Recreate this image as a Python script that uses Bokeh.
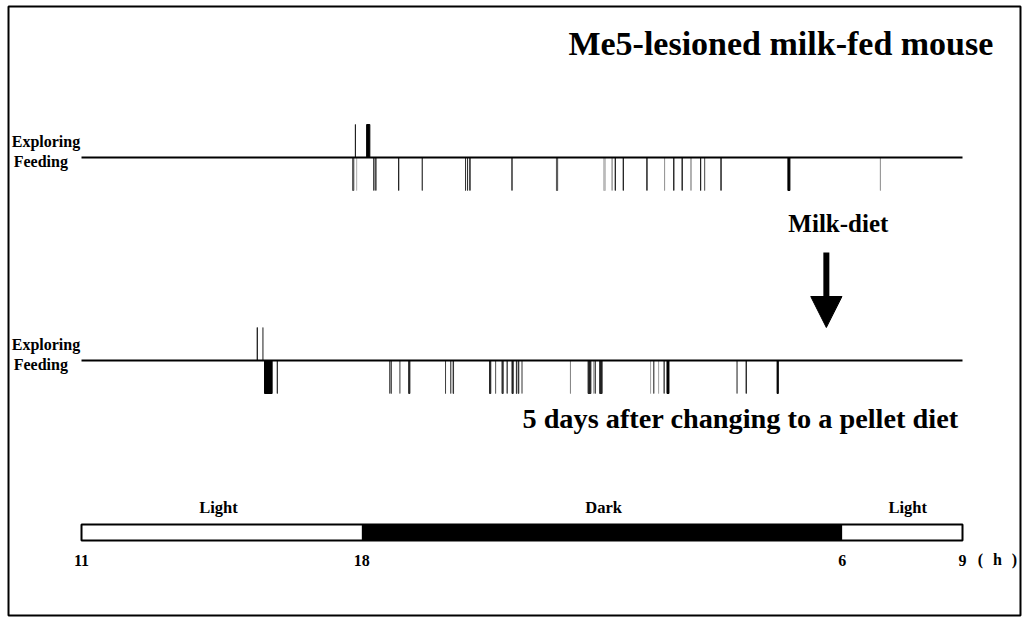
from bokeh.plotting import figure
from bokeh.models import Range1d
from bokeh.core.properties import value
from bokeh.embed import file_html
from bokeh.resources import INLINE

# ---------------- data (hours since 0:00 of day 1; 24+ = next day) ----------------
# Me5-lesioned milk-fed mouse (top row)
top_explore_start = [17.84, 18.12]
top_explore_end = [17.84, 18.20]
top_explore_shade = ["#222222", "#000000"]

top_feed_start = [17.77, 17.87, 18.30, 18.35, 18.92, 19.51, 20.59, 20.64, 20.70, 21.75,
                  22.86, 24.04, 24.25, 24.33, 24.53, 25.12, 25.56, 25.79, 26.00, 26.22,
                  26.46, 26.56, 26.97, 28.64, 30.95]
top_feed_end = [17.80, 17.87, 18.30, 18.35, 18.92, 19.51, 20.59, 20.64, 20.70, 21.75,
                22.89, 24.08, 24.25, 24.33, 24.53, 25.12, 25.56, 25.79, 26.00, 26.22,
                26.46, 26.56, 26.97, 28.69, 30.95]
top_feed_shade = ["#555555", "#bbbbbb", "#333333", "#333333", "#222222", "#444444", "#333333",
                  "#333333", "#222222", "#333333", "#555555", "#bbbbbb", "#999999", "#222222",
                  "#222222", "#222222", "#999999", "#222222", "#222222", "#999999", "#222222",
                  "#666666", "#222222", "#000000", "#999999"]

# 5 days after changing to a pellet diet (bottom row)
bot_explore_start = [15.39, 15.53]
bot_explore_end = [15.39, 15.53]
bot_explore_shade = ["#222222", "#666666"]

bot_feed_start = [15.57, 15.89, 18.70, 18.74, 18.95, 19.17, 20.09, 20.22, 20.28, 21.19,
                  21.34, 21.50, 21.63, 21.75, 21.86, 21.91, 22.00, 23.21, 23.65, 23.79,
                  23.83, 23.94, 25.21, 25.29, 25.41, 25.55, 25.62, 27.37, 27.60, 28.37]
bot_feed_end = [15.76, 15.89, 18.70, 18.74, 18.95, 19.20, 20.09, 20.22, 20.29, 21.22,
                21.34, 21.53, 21.63, 21.78, 21.87, 21.92, 22.00, 23.21, 23.72, 23.79,
                23.83, 24.00, 25.21, 25.29, 25.41, 25.55, 25.67, 27.37, 27.60, 28.40]
bot_feed_shade = ["#000000", "#333333", "#444444", "#555555", "#777777", "#222222", "#444444",
                  "#555555", "#333333", "#222222", "#666666", "#333333", "#444444", "#222222",
                  "#333333", "#333333", "#777777", "#888888", "#222222", "#aaaaaa", "#444444",
                  "#222222", "#aaaaaa", "#555555", "#aaaaaa", "#444444", "#000000", "#666666",
                  "#222222", "#000000"]

# light / dark cycle
period_start = [11, 18, 30]
period_end = [18, 30, 33]
period_label = ["Light", "Dark", "Light"]
period_fill = ["white", "black", "white"]

tick_hours = [11, 18, 30, 33]
tick_labels = ["11", "18", "6", "9"]
unit_parts = ["(", "h", ")"]

row_start, row_end = 11, 33

# ---------------- figure ----------------
FONT = value("Liberation Serif")

p = figure(width=1027, height=618, x_range=Range1d(8.977, 34.623), y_range=Range1d(618, 0),
           x_axis_type=None, y_axis_type=None, output_backend="svg", toolbar_location=None,
           min_border=0)
p.grid.visible = False
p.outline_line_color = None
p.background_fill_color = "white"
p.border_fill_color = "white"

# outer frame
p.quad(left=[9.177], right=[34.448], top=[6], bottom=[615],
       fill_color=None, line_color="black", line_width=2)

rows = [
    (157, top_explore_start, top_explore_end, top_explore_shade,
     top_feed_start, top_feed_end, top_feed_shade),
    (360, bot_explore_start, bot_explore_end, bot_explore_shade,
     bot_feed_start, bot_feed_end, bot_feed_shade),
]
mark_h = 33
for base, es, ee, ec, fs, fe, fc in rows:
    p.quad(left=es, right=ee, top=base - mark_h, bottom=base,
           fill_color=ec, line_color=ec, line_width=1)
    p.quad(left=fs, right=fe, top=base, bottom=base + mark_h,
           fill_color=fc, line_color=fc, line_width=1)
    p.segment(x0=[row_start], y0=[base], x1=[row_end], y1=[base],
              line_color="black", line_width=2)
    p.text(x=[9.257], y=[base - 16], text=["Exploring"], text_font=FONT,
           text_font_style="bold", text_font_size="16px", text_baseline="alphabetic")
    p.text(x=[9.307], y=[base + 4], text=["Feeding"], text_font=FONT,
           text_font_style="bold", text_font_size="16px", text_baseline="alphabetic")

# titles
p.text(x=[33.77], y=[43], text=["Me5-lesioned milk-fed mouse"], text_font=FONT,
       text_font_style="bold", text_font_size="34px", text_align="right",
       text_baseline="alphabetic")
p.text(x=[22.01], y=[418], text=["5 days after changing to a pellet diet"], text_font=FONT,
       text_font_style="bold", text_font_size="28.3px", text_align="left",
       text_baseline="alphabetic")
p.text(x=[29.90], y=[223], text=["Milk-diet"], text_font=FONT,
       text_font_style="bold", text_font_size="25px", text_align="center",
       text_baseline="alphabetic")

# arrow
ax = 29.60
p.quad(left=[ax - 0.075], right=[ax + 0.075], top=[252], bottom=[297],
       fill_color="black", line_color="black", line_width=0)
p.patch(x=[ax - 0.39, ax + 0.39, ax], y=[296, 296, 327], fill_color="black",
        line_color="black", line_width=1)

# light/dark bar
p.quad(left=period_start, right=period_end, top=524, bottom=540,
       fill_color=period_fill, line_color="black", line_width=0)
p.quad(left=[row_start], right=[row_end], top=[524], bottom=[540],
       fill_color=None, line_color="black", line_width=2)
p.text(x=[14.42, 24.04, 31.63], y=[507] * 3, text=period_label, text_font=FONT,
       text_font_style="bold", text_font_size="16.5px", text_align="center",
       text_baseline="alphabetic")

p.text(x=tick_hours, y=[560] * len(tick_hours), text=tick_labels, text_font=FONT,
       text_font_style="bold", text_font_size="16px", text_align="center",
       text_baseline="alphabetic")
p.text(x=[33.449, 33.873, 34.298], y=[559] * 3, text=unit_parts, text_font=FONT,
       text_font_style="bold", text_font_size="16px", text_align="center",
       text_baseline="alphabetic")

open("out.html", "w").write(file_html(p, INLINE))
